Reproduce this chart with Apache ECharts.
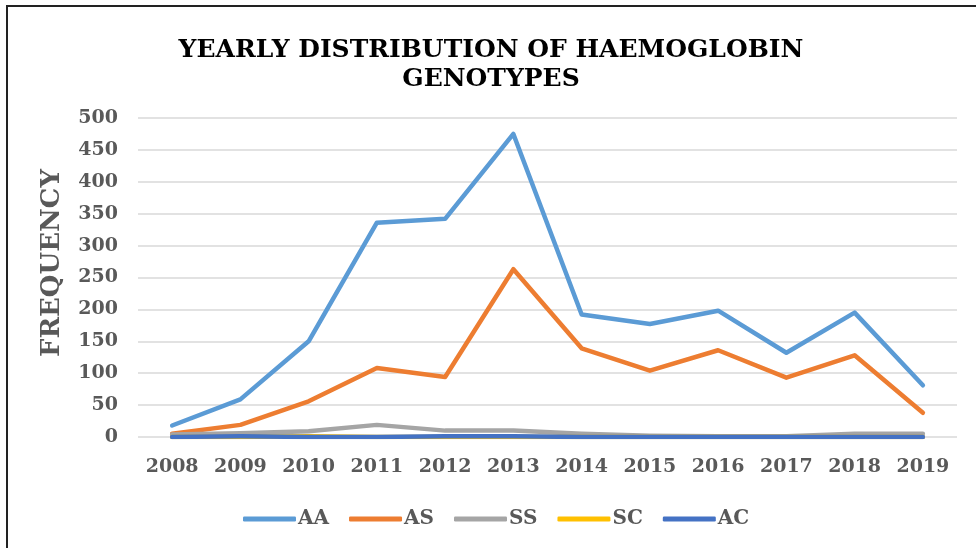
<!DOCTYPE html>
<html style="height: 100%">
<head>
<meta charset="utf-8">
</head>
<body style="height: 100%; margin: 0; background: #fff">
<div id="container" style="width: 976px; height: 548px"></div>
<script type="text/javascript" src="https://cdn.jsdelivr.net/npm/echarts@6/dist/echarts.min.js"></script>
<script type="text/javascript">
var years = ['2008', '2009', '2010', '2011', '2012', '2013', '2014', '2015', '2016', '2017', '2018', '2019'];
var aa = [18, 59, 150, 336, 342, 475, 192, 177, 198, 132, 195, 81];
var as = [5, 19, 56, 108, 94, 263, 139, 104, 136, 93, 128, 38];
var ss = [4, 6, 9, 19, 10, 10, 5, 2, 1, 1, 5, 5];
var sc = [0, 0, 1, 0, 0, 0, 0, 0, 0, 0, 0, 0];
var ac = [0, 1, 0, 0, 1, 1, 0, 0, 0, 0, 0, 0];

var font = 'DejaVu Serif';
var grey = '#595959';

var dom = document.getElementById('container');
var myChart = echarts.init(dom);

function line(name, data, color) {
    return {
        name: name,
        type: 'line',
        data: data,
        symbol: 'none',
        animation: false,
        lineStyle: { color: color, width: 4.5, cap: 'round', join: 'round' },
        itemStyle: { color: color }
    };
}

var option = {
    backgroundColor: '#fff',
    title: {
        text: 'YEARLY DISTRIBUTION OF HAEMOGLOBIN\nGENOTYPES',
        left: 486,
        top: 31,
        textAlign: 'center',
        textStyle: {
            fontFamily: font,
            fontWeight: 'bold',
            fontSize: 25,
            lineHeight: 29,
            color: '#000'
        }
    },
    legend: {
        left: 238,
        top: 504,
        icon: 'roundRect',
        itemWidth: 53,
        itemHeight: 5,
        itemGap: 20,
        textStyle: { fontFamily: font, fontWeight: 'bold', fontSize: 20, color: grey, padding: [0, 0, 0, -3] },
        data: ['AA', 'AS', 'SS', 'SC', 'AC']
    },
    graphic: [{
        type: 'rect',
        shape: { x: 7, y: 6, width: 1000, height: 600 },
        style: { fill: 'none', stroke: '#222', lineWidth: 2 }
    }, {
        type: 'text',
        x: 52,
        y: 263,
        rotation: Math.PI / 2,
        style: {
            text: 'FREQUENCY',
            fontFamily: font,
            fontWeight: 'bold',
            fontSize: 26,
            fill: grey,
            align: 'center',
            verticalAlign: 'middle'
        }
    }],
    grid: { left: 138, right: 19, top: 118, bottom: 111 },
    xAxis: {
        type: 'category',
        data: years,
        boundaryGap: true,
        axisLine: { show: false },
        axisTick: { show: false },
        axisLabel: { interval: 0, fontFamily: font, fontWeight: 'bold', fontSize: 19, color: grey, margin: 21 }
    },
    yAxis: {
        type: 'value',
        min: 0,
        max: 500,
        interval: 50,
        axisLine: { show: false },
        axisTick: { show: false },
        axisLabel: { fontFamily: font, fontWeight: 'bold', fontSize: 19, color: grey, margin: 20 },
        splitLine: { lineStyle: { color: '#d9d9d9', width: 1.5 } }
    },
    series: [
        line('AA', aa, '#5B9BD5'),
        line('AS', as, '#ED7D31'),
        line('SS', ss, '#A5A5A5'),
        line('SC', sc, '#FFC000'),
        line('AC', ac, '#4472C4')
    ]
};

myChart.setOption(option);
</script>
</body>
</html>
